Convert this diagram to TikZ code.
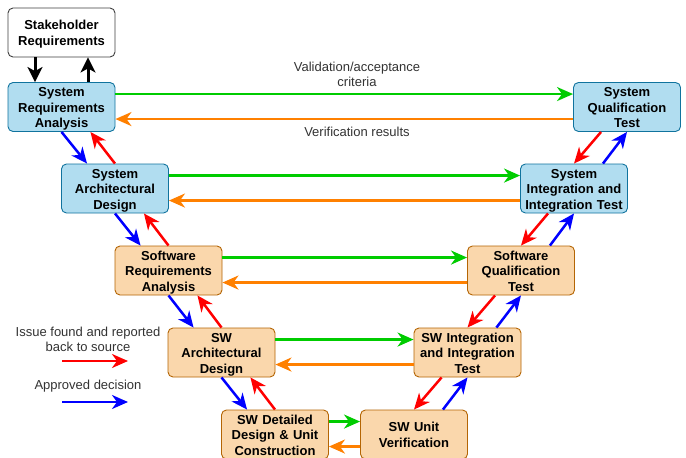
\documentclass[tikz,border=0pt]{standalone}
\usepackage{fontspec}
\setmainfont{Liberation Sans}
\usetikzlibrary{arrows.meta}
\definecolor{bfill}{HTML}{B1DDF0}
\definecolor{bdraw}{HTML}{10739E}
\definecolor{ofill}{HTML}{FAD7AC}
\definecolor{odraw}{HTML}{B46504}
\definecolor{gline}{HTML}{00CC00}
\definecolor{oline}{HTML}{FF8000}
\definecolor{rline}{HTML}{FF0000}
\definecolor{bline}{HTML}{0000FF}
\definecolor{txt}{HTML}{333333}
\tikzset{
  box/.style={rectangle, rounded corners=5pt, minimum width=107pt, minimum height=49pt,
    inner sep=0pt, align=center, text width=106pt, font=\bfseries\fontsize{13}{15.5}\selectfont, line width=0.9pt,
    execute at begin node={\rule{0pt}{13pt}}, execute at end node={\rule[-3pt]{0pt}{3pt}}},
  bluebox/.style={box, fill=bfill, draw=bdraw},
  orangebox/.style={box, fill=ofill, draw=odraw},
  whitebox/.style={box, fill=white, draw=black!75},
  tip/.style={-{Stealth[length=16pt,width=14pt,inset=5pt]}},
  garrow/.style={tip, draw=gline, line width=2.5pt},
  oarrow/.style={tip, draw=oline, line width=2.5pt},
  rarrow/.style={tip, draw=rline, line width=2.5pt},
  barrow/.style={tip, draw=bline, line width=2.5pt},
  karrow/.style={-{Stealth[length=15pt,width=15pt,inset=4pt]}, draw=black, line width=3pt},
  lbl/.style={text=txt, font=\fontsize{13}{15}\selectfont, align=center, inner sep=0pt},
}
\begin{document}
\begin{tikzpicture}[x=1pt,y=-1pt]
\useasboundingbox (0,0) rectangle (686,458);
\clip (0,0) rectangle (686,458);
\fill[white] (0,0) rectangle (686,458);

\node[whitebox] (stk) at (61.5,32.5) {Stakeholder\\Requirements};
\node[bluebox] (sra) at (61.5,107) {System\\Requirements\\Analysis};
\node[bluebox] (sad) at (115,188.5) {System\\Architectural\\Design};
\node[orangebox] (swra) at (168.5,270.5) {Software\\Requirements\\Analysis};
\node[orangebox] (swad) at (221.5,352.5) {SW\\Architectural\\Design};
\node[orangebox] (swdd) at (275,434.5) {SW Detailed\\Design \& Unit\\Construction};

\node[bluebox] (sqt) at (627,107) {System\\Qualification\\Test};
\node[bluebox] (siit) at (574,188.5) {System\\Integration and\\Integration Test};
\node[orangebox] (swqt) at (521,270.5) {Software\\Qualification\\Test};
\node[orangebox] (swiit) at (467.5,352.5) {SW Integration\\and Integration\\Test};
\node[orangebox] (swuv) at (414,434.5) {SW Unit\\Verification};

% stakeholder arrows
\draw[karrow] ([xshift=-26.5pt]stk.south) -- ([xshift=-26.5pt]sra.north);
\draw[karrow] ([xshift=26.5pt]sra.north) -- ([xshift=26.5pt]stk.south);

% horizontal arrows
\foreach \l/\r in {sra/sqt, sad/siit, swra/swqt, swad/swiit, swdd/swuv}{
  \draw[garrow] ([yshift=-12pt]\l.north east) -- ([yshift=-12pt]\r.north west);
  \draw[oarrow] ([yshift=-37pt]\r.north west) -- ([yshift=-37pt]\l.north east);
}

% left diagonals
\foreach \u/\d in {sra/sad, sad/swra, swra/swad, swad/swdd}{
  \draw[barrow] (\u.south) -- ([xshift=26pt]\d.north west);
  \draw[rarrow] (\d.north) -- ([xshift=-25pt]\u.south east);
}
% right diagonals
\foreach \u/\d in {sqt/siit, siit/swqt, swqt/swiit, swiit/swuv}{
  \draw[rarrow] ([xshift=28pt]\u.south west) -- (\d.north);
  \draw[barrow] ([xshift=-25pt]\d.north east) -- (\u.south);
}

% labels
\node[lbl] (val) at (357,74.5) {Validation/acceptance\\criteria};
\node[lbl] (ver) at (357,132) {Verification results};

% legend
\node[lbl] (iss) at (88,339) {Issue found and reported\\back to source};
\coordinate (r1) at (62,361);
\coordinate (r2) at (128,361);
\draw[rarrow] (r1) -- (r2);
\node[lbl] (app) at (88,386) {Approved decision};
\coordinate (b1) at (62,402);
\coordinate (b2) at (128,402);
\draw[barrow] (b1) -- (b2);
\end{tikzpicture}
\end{document}
